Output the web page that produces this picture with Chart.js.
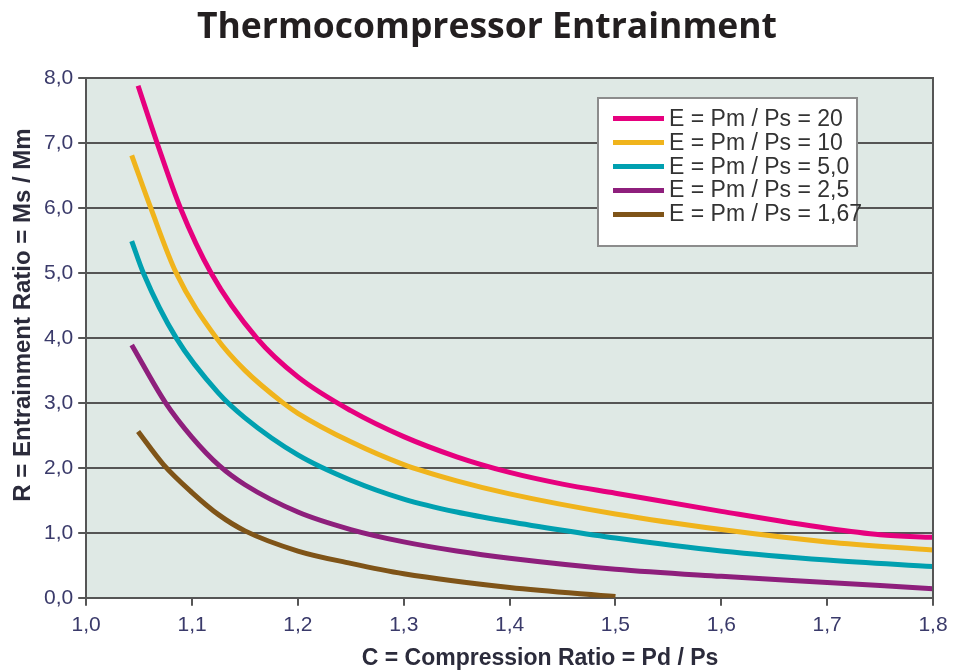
<!DOCTYPE html>
<html>
<head>
<meta charset="utf-8">
<script src="https://cdn.jsdelivr.net/npm/chart.js@4.4.1/dist/chart.umd.min.js"></script>
<style>
  body { margin: 0; background: #fff; }
  #wrap { position: relative; width: 957px; height: 670px; }
  .title {
    position: absolute; left: 0; top: 3px; width: 974px; text-align: center;
    font-family: "Open Sans", sans-serif; font-weight: bold; font-size: 35.5px; line-height: 42px; color: #231f20;
  }
  .xtitle {
    position: absolute; left: 340px; top: 646px; width: 400px; text-align: center;
    font-family: "Liberation Sans", Arial, sans-serif; font-weight: bold; font-size: 23px; line-height: 23px; color: #2b2b3b;
  }
  .ytitle {
    position: absolute; left: 22px; top: 315px; width: 420px; margin-left: -210px; margin-top: -12px; text-align: center;
    transform: rotate(-90deg);
    font-family: "Liberation Sans", Arial, sans-serif; font-weight: bold; font-size: 24px; line-height: 24px; color: #2b2b3b;
  }
  #legend {
    position: absolute; left: 597px; top: 97px; width: 257px; height: 138px;
    background: #fff; border: 2px solid #8c8c8c; padding-top: 8px; box-sizing: content-box;
    font-family: "Liberation Sans", Arial, sans-serif; font-size: 23px; color: #333; white-space: nowrap;
  }
  #legend .row { height: 23.8px; line-height: 23.8px; display: flex; align-items: center; }
  #legend .swatch { width: 51px; height: 5px; margin-left: 14px; margin-right: 5px; flex: none; }
</style>
</head>
<body>
<div id="wrap">
  <canvas id="chart" width="957" height="670"></canvas>
  <div class="title">Thermocompressor Entrainment</div>
  <div class="ytitle">R = Entrainment Ratio = Ms / Mm</div>
  <div class="xtitle">C = Compression Ratio = Pd / Ps</div>
  <div id="legend"></div>
</div>
<script>
// curves: [C, R]
const e20 = [[1.049,7.88],[1.067,7.0],[1.089,6.0],[1.118,5.0],[1.161,4.0],[1.2,3.40],[1.25,2.88],[1.3,2.48],[1.35,2.17],[1.4,1.93],[1.45,1.75],[1.5,1.61],[1.6,1.33],[1.7,1.07],[1.75,0.97],[1.8,0.93]];
const e10 = [[1.043,6.81],[1.061,6.0],[1.085,5.0],[1.123,4.0],[1.15,3.5],[1.186,3.0],[1.2,2.84],[1.25,2.40],[1.3,2.05],[1.35,1.80],[1.4,1.60],[1.5,1.29],[1.6,1.05],[1.7,0.86],[1.8,0.735]];
const e5 = [[1.043,5.49],[1.054,5.0],[1.085,4.0],[1.125,3.15],[1.15,2.77],[1.2,2.2],[1.25,1.81],[1.3,1.52],[1.35,1.32],[1.4,1.17],[1.45,1.04],[1.5,0.92],[1.6,0.72],[1.7,0.58],[1.8,0.48]];
const e25 = [[1.043,3.89],[1.075,3.0],[1.1,2.47],[1.126,2.03],[1.15,1.74],[1.2,1.32],[1.25,1.05],[1.3,0.86],[1.35,0.72],[1.4,0.61],[1.5,0.44],[1.6,0.33],[1.7,0.235],[1.8,0.14]];
const e167 = [[1.049,2.56],[1.073,2.05],[1.1,1.62],[1.125,1.28],[1.15,1.03],[1.2,0.72],[1.25,0.53],[1.3,0.37],[1.4,0.16],[1.5,0.02]];

const seriesNames = ["E = Pm / Ps = 20", "E = Pm / Ps = 10", "E = Pm / Ps = 5,0", "E = Pm / Ps = 2,5", "E = Pm / Ps = 1,67"];
const seriesData = [e20, e10, e5, e25, e167];
const seriesColors = ["#e6007e", "#f0b41c", "#00a0b0", "#8e1f7c", "#7f5418"];

const comma = v => v.toFixed(1).replace(".", ",");

const plotBg = {
  id: "plotBg",
  beforeDraw(chart) {
    const { ctx, chartArea: a } = chart;
    ctx.save();
    ctx.fillStyle = "#dfe9e5";
    ctx.fillRect(a.left, a.top, a.right - a.left, a.bottom - a.top);
    ctx.restore();
  },
  afterDraw(chart) {
    const { ctx, chartArea: a } = chart;
    ctx.save();
    ctx.strokeStyle = "#555";
    ctx.lineWidth = 2;
    ctx.beginPath();
    ctx.moveTo(a.left, a.top);
    ctx.lineTo(a.right, a.top);
    ctx.lineTo(a.right, a.bottom);
    ctx.stroke();
    ctx.restore();
  }
};

const chart = new Chart(document.getElementById("chart"), {
  type: "line",
  data: {
    datasets: seriesData.map((d, i) => ({
      label: seriesNames[i],
      data: d.map(p => ({ x: p[0], y: p[1] })),
      borderColor: seriesColors[i],
      borderWidth: 5,
      pointRadius: 0,
      fill: false,
      cubicInterpolationMode: "monotone"
    }))
  },
  options: {
    responsive: false,
    animation: false,
    layout: { padding: { left: 39, right: 24, top: 78, bottom: 25 } },
    plugins: {
      legend: { display: false },
      tooltip: { enabled: false },
      title: { display: false }
    },
    scales: {
      x: {
        type: "linear",
        min: 1.0, max: 1.8,
        ticks: { stepSize: 0.1, callback: v => comma(v), color: "#3a3a6a", padding: 7,
          font: { family: "Liberation Sans", size: 21 } },
        grid: { drawOnChartArea: false, color: "#555", lineWidth: 2, tickLength: 8 },
        border: { color: "#555", width: 2 }
      },
      y: {
        min: 0, max: 8,
        ticks: { stepSize: 1, callback: v => comma(v), color: "#3a3a6a", padding: 5,
          font: { family: "Liberation Sans", size: 21 } },
        grid: { color: "#555", lineWidth: 2, tickLength: 8 },
        border: { color: "#555", width: 2 }
      }
    }
  },
  plugins: [plotBg]
});

const legend = document.getElementById("legend");
seriesNames.forEach((name, i) => {
  const row = document.createElement("div");
  row.className = "row";
  row.innerHTML = `<span class="swatch" style="background:${seriesColors[i]}"></span><span>${name}</span>`;
  legend.appendChild(row);
});
</script>
</body>
</html>
